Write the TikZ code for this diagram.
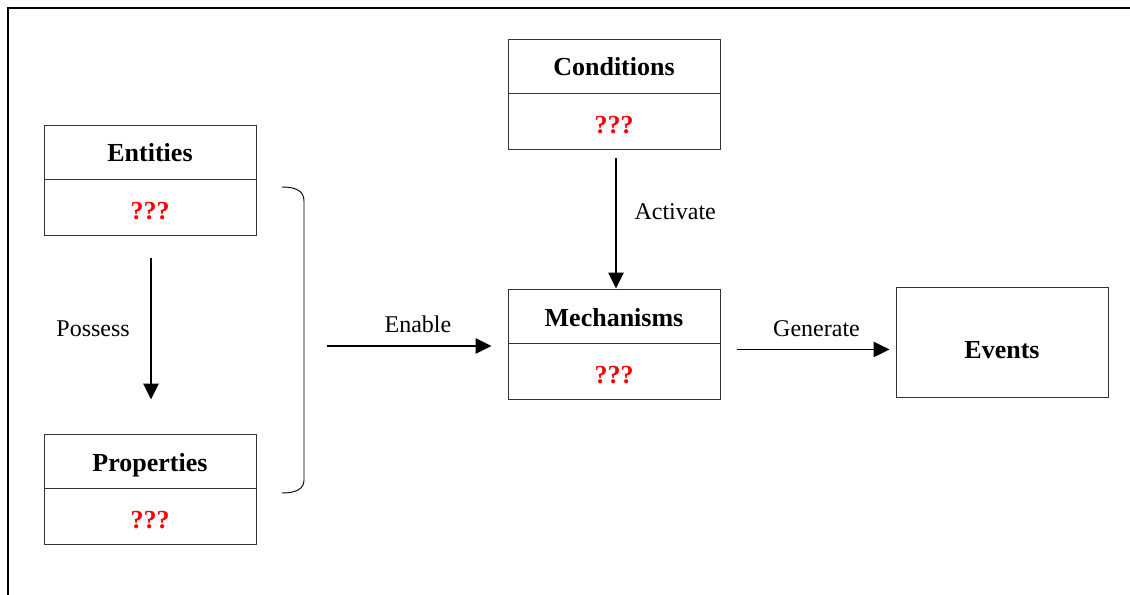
\documentclass[tikz,border=0pt]{standalone}
\usepackage{fontspec}
\setmainfont{Liberation Serif}
\usetikzlibrary{arrows.meta,positioning}

\begin{document}
\begin{tikzpicture}[x=0.75pt,y=-0.75pt,
    >={Triangle[length=12pt,width=11.5pt]},
    arr/.style={->,line width=1.1pt},
    title/.style={draw=black!80,line width=0.7pt,minimum width=159pt,
                  minimum height=40.5pt,inner sep=0pt,text height=15pt,text depth=0pt,
                  font=\fontsize{19.5}{22}\selectfont\bfseries},
    value/.style={draw=black!80,line width=0.7pt,minimum width=159pt,
                  minimum height=42pt,inner sep=0pt,text=red,text height=18pt,text depth=0pt,
                  font=\fontsize{19.5}{22}\selectfont\bfseries},
    lbl/.style={font=\fontsize{18}{20}\selectfont}]
  \useasboundingbox (0,0) rectangle (1130,595);
  % outer frame
  \draw[line width=1.8pt] (8,595) -- (8,8) -- (1130,8);

  \node[title] (ent)  at (150,152)     {Entities};
  \node[value] (entq) [below=0pt of ent]  {???};

  \node[title] (prop)  at (150,461)    {Properties};
  \node[value] (propq) [below=0pt of prop] {???};

  \node[title] (cond)  at (614,66)     {Conditions};
  \node[value] (condq) [below=0pt of cond] {???};

  \node[title] (mech)  at (614,316)    {Mechanisms};
  \node[value] (mechq) [below=0pt of mech] {???};

  \node[draw=black!80,line width=0.7pt,minimum width=159pt,minimum height=82.5pt,
        text height=25pt,text depth=0pt,
        font=\fontsize{19.5}{22}\selectfont\bfseries] (ev) at (1002,342) {Events};

  % bracket round entities and properties
  \draw[line width=0.7pt] (282,187) .. controls (296,187) and (304,191) .. (304,201)
        -- (304,480) .. controls (304,489) and (296,493) .. (282,493);
  \coordinate (br) at (304,346);
  \coordinate (gen) at ([shift={(17,6)}]mech.south east);

  \draw[arr,shorten <=16.5pt,shorten >=25.5pt] ([xshift=0.75pt]entq.south) -- node[lbl,left=12pt,pos=0.47] {Possess} ([xshift=0.75pt]prop.north);
  \draw[arr,shorten <=6pt] ([xshift=1.5pt]condq.south) -- node[lbl,right=10pt,pos=0.44] {Activate} ([xshift=1.5pt]mech.north);
  \draw[arr,shorten <=17pt,shorten >=12pt] (br) -- node[lbl,above=6pt,pos=0.56] {Enable} (br -| mechq.west);
  \draw[arr,shorten >=4.5pt] (gen) -- node[lbl,above=6pt,pos=0.5] {Generate} (gen -| ev.west);
\end{tikzpicture}
\end{document}
